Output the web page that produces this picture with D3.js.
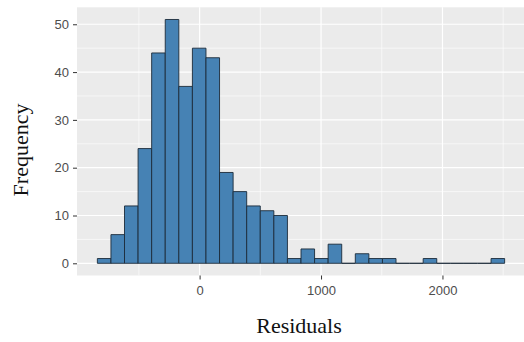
<!DOCTYPE html>
<html>
<head>
<meta charset="utf-8">
<script src="https://cdn.jsdelivr.net/npm/d3@7"></script>
<style>
  body { margin: 0; background: #fff; }
  svg { display: block; }
</style>
</head>
<body>
<div id="chart"></div>
<script>
// histogram of residuals, 30 bins
const binStart = -842;
const binWidth = 111.8;
const counts = [1, 6, 12, 24, 44, 51, 37, 45, 43, 19, 15, 12, 11, 10, 1,
                3, 1, 4, 0, 2, 1, 1, 0, 0, 1, 0, 0, 0, 0, 1];
const xTicks = [0, 1000, 2000];
const xMinor = [-500, 500, 1500, 2500];
const yTicks = [0, 10, 20, 30, 40, 50];
const yMinor = [5, 15, 25, 35, 45];

let width = 524,
    height = 342,
    panel = { left: 77, right: 525, top: 7.3, bottom: 275.5 };

let bins = counts.map(function (c, i) {
    return { x0: binStart + i * binWidth, x1: binStart + (i + 1) * binWidth, count: c };
});

// ggplot style 5% expansion
let lo = bins[0].x0, hi = bins[bins.length - 1].x1;
let padX = (hi - lo) * 0.05;
let yMax = d3.max(counts), padY = yMax * 0.05;

let x = d3.scaleLinear()
    .domain([lo - padX, hi + padX])
    .range([panel.left, panel.right]);

let y = d3.scaleLinear()
    .domain([-padY, yMax + padY])
    .range([panel.bottom, panel.top]);

let svg = d3.select("#chart").append("svg")
    .attr("width", width)
    .attr("height", height);

// panel background
svg.append("rect")
    .attr("x", panel.left)
    .attr("y", panel.top)
    .attr("width", panel.right - panel.left)
    .attr("height", panel.bottom - panel.top)
    .attr("fill", "#ebebeb");

let grid = svg.append("g");

// minor grid
grid.selectAll(".ymin").data(yMinor).enter().append("line")
    .attr("x1", panel.left).attr("x2", panel.right)
    .attr("y1", d => y(d)).attr("y2", d => y(d))
    .attr("stroke", "#fff").attr("stroke-width", 0.6);
grid.selectAll(".xmin").data(xMinor).enter().append("line")
    .attr("y1", panel.top).attr("y2", panel.bottom)
    .attr("x1", d => x(d)).attr("x2", d => x(d))
    .attr("stroke", "#fff").attr("stroke-width", 0.6);

// major grid
grid.selectAll(".ymaj").data(yTicks).enter().append("line")
    .attr("x1", panel.left).attr("x2", panel.right)
    .attr("y1", d => y(d)).attr("y2", d => y(d))
    .attr("stroke", "#fff").attr("stroke-width", 1.2);
grid.selectAll(".xmaj").data(xTicks).enter().append("line")
    .attr("y1", panel.top).attr("y2", panel.bottom)
    .attr("x1", d => x(d)).attr("x2", d => x(d))
    .attr("stroke", "#fff").attr("stroke-width", 1.2);

// bars (paths so empty bins still show their outline)
svg.append("g")
    .selectAll("path")
    .data(bins)
    .enter().append("path")
    .attr("d", function (d) {
        return "M" + x(d.x0) + "," + y(0) + "H" + x(d.x1) + "V" + y(d.count) + "H" + x(d.x0) + "Z";
    })
    .attr("fill", "#4682b4")
    .attr("stroke", "#1c2b3a")
    .attr("stroke-width", 0.9);

// x axis
let xAxis = svg.append("g")
    .attr("transform", "translate(0," + panel.bottom + ")")
    .call(d3.axisBottom(x).tickValues(xTicks).tickFormat(d3.format("d")).tickSize(4).tickPadding(6));
xAxis.select(".domain").remove();

// y axis
let yAxis = svg.append("g")
    .attr("transform", "translate(" + panel.left + ",0)")
    .call(d3.axisLeft(y).tickValues(yTicks).tickFormat(d3.format("d")).tickSize(4).tickPadding(4));
yAxis.select(".domain").remove();

svg.selectAll(".tick line").attr("stroke", "#333").attr("stroke-width", 1);
svg.selectAll(".tick text")
    .attr("fill", "#4d4d4d")
    .style("font-family", "'Liberation Sans', Arial, sans-serif")
    .style("font-size", "13px");

// axis titles
svg.append("text")
    .attr("x", 299)
    .attr("y", 333)
    .attr("text-anchor", "middle")
    .style("font-family", "'Liberation Serif', 'Times New Roman', serif")
    .style("font-size", "22px")
    .attr("fill", "#111")
    .text("Residuals");

svg.append("text")
    .attr("transform", "translate(28,150) rotate(-90)")
    .attr("text-anchor", "middle")
    .style("font-family", "'Liberation Serif', 'Times New Roman', serif")
    .style("font-size", "22px")
    .attr("fill", "#111")
    .text("Frequency");
</script>
</body>
</html>
